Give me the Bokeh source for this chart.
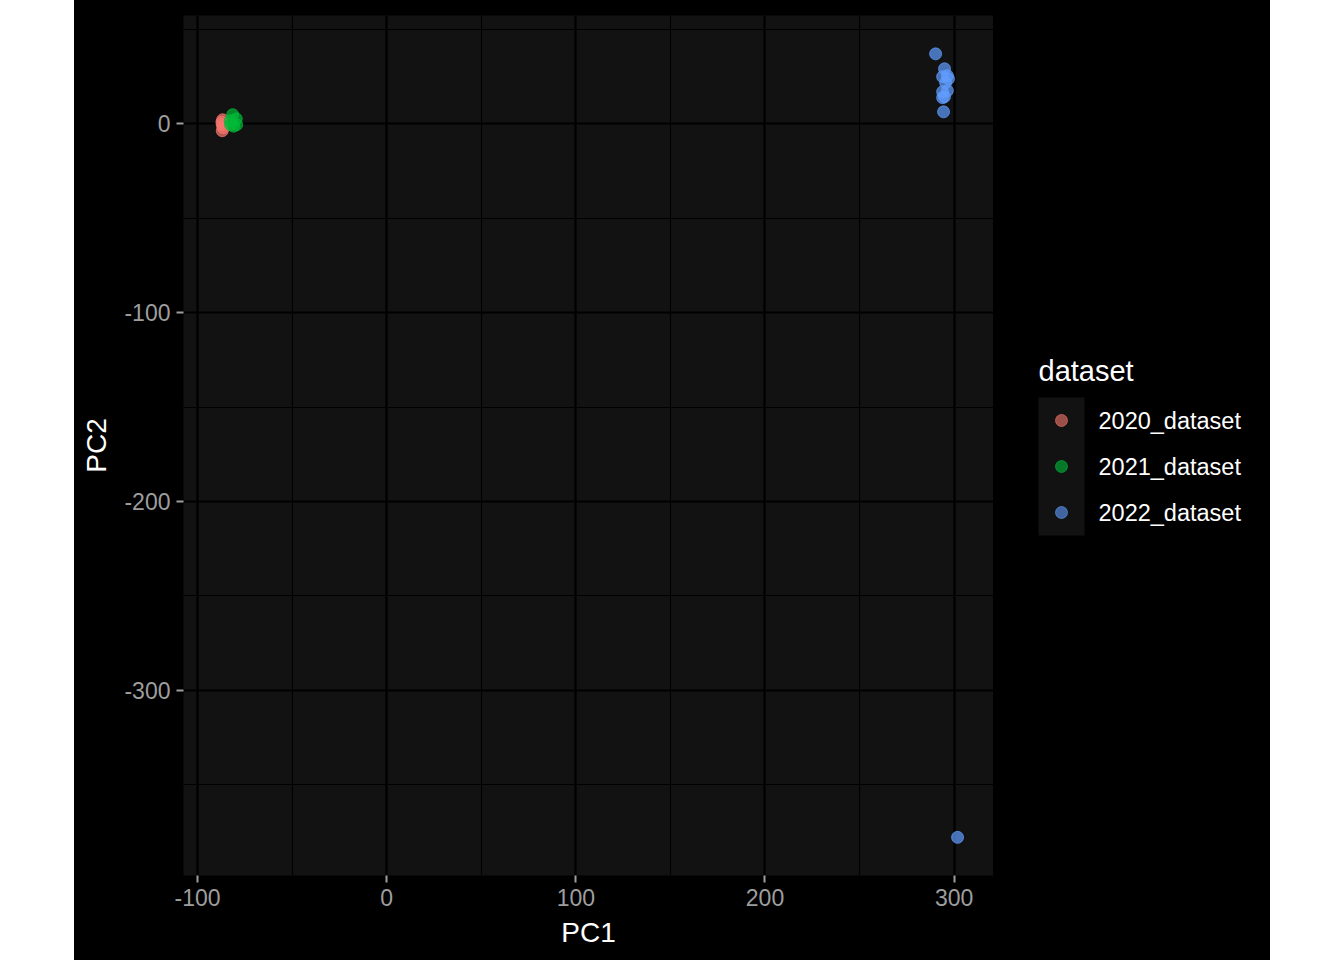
from bokeh.plotting import figure
from bokeh.models import Range1d, SingleIntervalTicker, Spacer, CustomJSTickFormatter
from bokeh.layouts import row
from bokeh.core.properties import value
from bokeh.embed import file_html
from bokeh.resources import INLINE

# ---- data ----
groups = ["2020_dataset", "2021_dataset", "2022_dataset"]
colors = ["#F8766D", "#00BA38", "#619CFF"]

pc1_2020 = [-86.7, -86.9, -86.9, -86.4, -87.1]
pc2_2020 = [2.1, -0.5, -3.7, -2.1, 0.8]

pc1_2021 = [-81.4, -82.7, -79.5, -80.9, -79.3, -82.5]
pc2_2021 = [4.8, 1.6, 2.6, -1.3, -0.5, -0.5]

pc1_2022 = [290.2, 294.9, 296.4, 293.9, 297.0, 295.5, 296.4, 293.9, 293.9, 294.9, 294.4, 301.8]
pc2_2022 = [37.0, 29.1, 25.4, 24.9, 23.8, 21.7, 17.5, 16.9, 13.8, 14.3, 6.3, -377.8]

x_ticks = [-100, 0, 100, 200, 300]
y_ticks = [0, -100, -200, -300]

FONT = "Liberation Sans"
PANEL = "#121212"
TICKC = "#9e9e9e"

p = figure(width=919, height=960, output_backend="svg", toolbar_location=None,
           x_range=Range1d(-107.4, 320.8), y_range=Range1d(-398.0, 57.3),
           min_border_left=109, min_border_right=0, min_border_top=15, min_border_bottom=85)
p.background_fill_color = PANEL
p.border_fill_color = "black"
p.outline_line_color = None

fmt = CustomJSTickFormatter(code="return String(tick);")
for ax in (p.xaxis, p.yaxis):
    ax.ticker = SingleIntervalTicker(interval=100, num_minor_ticks=2)
    ax.formatter = fmt
    ax.axis_line_color = None
    ax.major_tick_line_color = TICKC
    ax.major_tick_line_width = 2
    ax.major_tick_out = 7
    ax.major_tick_in = 0
    ax.minor_tick_line_color = None
    ax.major_label_text_color = TICKC
    ax.major_label_text_font = FONT
    ax.major_label_text_font_size = "23px"
    ax.axis_label_text_color = "white"
    ax.axis_label_text_font = FONT
    ax.axis_label_text_font_size = "28px"
    ax.axis_label_text_font_style = "normal"

p.xaxis.axis_label = "PC1"
p.yaxis.axis_label = "PC2"
p.xaxis.major_label_standoff = 6
p.xaxis.axis_label_standoff = 8
p.yaxis.major_label_standoff = 6
p.yaxis.axis_label_standoff = 9

for g in (p.xgrid, p.ygrid):
    g.grid_line_color = "black"
    g.grid_line_width = 2.2
    g.minor_grid_line_color = "black"
    g.minor_grid_line_width = 1.1
p.xgrid.ticker = p.xaxis.ticker
p.ygrid.ticker = p.yaxis.ticker

series = [(pc1_2020, pc2_2020), (pc1_2021, pc2_2021), (pc1_2022, pc2_2022)]
for (xs, ys), c in zip(series, colors):
    p.scatter(xs, ys, size=12, fill_color=c, line_color=c, fill_alpha=0.7, line_alpha=0.7)

# ---- legend panel (its frame is aligned with the main frame: y 15..875) ----
leg = figure(width=277, height=960, output_backend="svg", toolbar_location=None,
             x_range=Range1d(0, 277), y_range=Range1d(875, 15),
             min_border=0)
leg.axis.visible = False
leg.grid.visible = False
leg.outline_line_color = None
leg.background_fill_color = "black"
leg.border_fill_color = "black"

key_x = 68
key_y0 = 420
key_step = 46
ky = [key_y0 + i * key_step for i in range(len(groups))]

leg.quad(left=[key_x - 23], right=[key_x + 23], top=[ky[0] - 23], bottom=[ky[-1] + 23],
         fill_color=PANEL, line_color=None)
leg.scatter([key_x] * len(groups), ky, size=12, fill_color=colors, line_color=colors,
            fill_alpha=0.6, line_alpha=0.6)
leg.text([key_x + 37] * len(groups), ky, text=groups, text_color="white",
         text_font=value(FONT), text_font_size="23.5px", text_baseline="middle")
leg.text([45], [370], text=["dataset"], text_color="white",
         text_font=value(FONT), text_font_size="29px", text_baseline="middle")

layout = row(Spacer(width=74, height=960, styles={"background-color": "white"}), p, leg,
             styles={"background-color": "black"})
open("out.html", "w").write(file_html(layout, INLINE))
